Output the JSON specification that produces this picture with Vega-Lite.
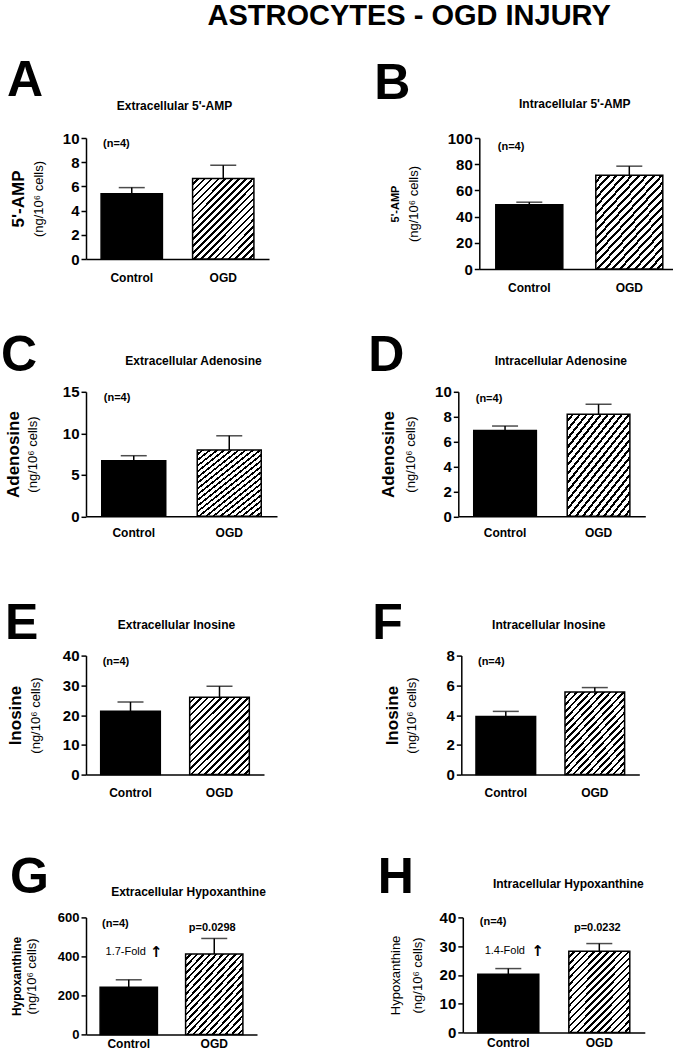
{
"$schema":"https://vega.github.io/schema/vega-lite/v6.json",
"padding":{"left":1,"top":2,"right":0,"bottom":0},
"title":{"text":"ASTROCYTES - OGD INJURY","fontSize":29,"anchor":"middle","frame":"bounds","dx":69,"offset":24.8},
"spacing":37.8,
"vconcat":[
{"hconcat":[
 {"width":183,"height":121,
  "title":{"text":"A","anchor":"start","frame":"group","fontSize":50,"dx":-79,"offset":-6.2},
  "data":{"values":[{"group":"Control","mean":5.4,"upper":5.9},{"group":"OGD","mean":6.65,"upper":7.75}]},
  "resolve":{"scale":{"x":"independent","y":"independent"}},
  "layer":[
   {"layer":[
    {"transform":[{"filter":"datum.group === 'Control'"}],"mark":{"type":"bar","fill":"#000","stroke":"#000","strokeWidth":1.5},
     "encoding":{"x":{"field":"group","type":"nominal","scale":{"domain":["Control","OGD"],"paddingInner":0.33,"paddingOuter":0.165},"axis":{"title":null,"labelPadding":13}},
      "y":{"field":"mean","type":"quantitative","scale":{"domain":[0,10],"nice":false},"axis":{"values":[0,2,4,6,8,10],"format":"d","tickCount":20,"labelOverlap":false,"title":"(ng/10⁶ cells)","titlePadding":17}}}},
    {"transform":[{"filter":"datum.group === 'OGD'"}],"mark":{"type":"bar","stroke":"#000","strokeWidth":1.5,"fill":{"gradient":"linear","x1":0,"y1":0,"x2":1,"y2":1.3,"stops":[{"offset":0,"color":"#fff"},{"offset":0.0258,"color":"#fff"},{"offset":0.0258,"color":"#000"},{"offset":0.0417,"color":"#000"},{"offset":0.0417,"color":"#fff"},{"offset":0.0675,"color":"#fff"},{"offset":0.0675,"color":"#000"},{"offset":0.0833,"color":"#000"},{"offset":0.0833,"color":"#fff"},{"offset":0.1092,"color":"#fff"},{"offset":0.1092,"color":"#000"},{"offset":0.125,"color":"#000"},{"offset":0.125,"color":"#fff"},{"offset":0.1508,"color":"#fff"},{"offset":0.1508,"color":"#000"},{"offset":0.1667,"color":"#000"},{"offset":0.1667,"color":"#fff"},{"offset":0.1925,"color":"#fff"},{"offset":0.1925,"color":"#000"},{"offset":0.2083,"color":"#000"},{"offset":0.2083,"color":"#fff"},{"offset":0.2342,"color":"#fff"},{"offset":0.2342,"color":"#000"},{"offset":0.25,"color":"#000"},{"offset":0.25,"color":"#fff"},{"offset":0.2758,"color":"#fff"},{"offset":0.2758,"color":"#000"},{"offset":0.2917,"color":"#000"},{"offset":0.2917,"color":"#fff"},{"offset":0.3175,"color":"#fff"},{"offset":0.3175,"color":"#000"},{"offset":0.3333,"color":"#000"},{"offset":0.3333,"color":"#fff"},{"offset":0.3592,"color":"#fff"},{"offset":0.3592,"color":"#000"},{"offset":0.375,"color":"#000"},{"offset":0.375,"color":"#fff"},{"offset":0.4008,"color":"#fff"},{"offset":0.4008,"color":"#000"},{"offset":0.4167,"color":"#000"},{"offset":0.4167,"color":"#fff"},{"offset":0.4425,"color":"#fff"},{"offset":0.4425,"color":"#000"},{"offset":0.4583,"color":"#000"},{"offset":0.4583,"color":"#fff"},{"offset":0.4842,"color":"#fff"},{"offset":0.4842,"color":"#000"},{"offset":0.5,"color":"#000"},{"offset":0.5,"color":"#fff"},{"offset":0.5258,"color":"#fff"},{"offset":0.5258,"color":"#000"},{"offset":0.5417,"color":"#000"},{"offset":0.5417,"color":"#fff"},{"offset":0.5675,"color":"#fff"},{"offset":0.5675,"color":"#000"},{"offset":0.5833,"color":"#000"},{"offset":0.5833,"color":"#fff"},{"offset":0.6092,"color":"#fff"},{"offset":0.6092,"color":"#000"},{"offset":0.625,"color":"#000"},{"offset":0.625,"color":"#fff"},{"offset":0.6508,"color":"#fff"},{"offset":0.6508,"color":"#000"},{"offset":0.6667,"color":"#000"},{"offset":0.6667,"color":"#fff"},{"offset":0.6925,"color":"#fff"},{"offset":0.6925,"color":"#000"},{"offset":0.7083,"color":"#000"},{"offset":0.7083,"color":"#fff"},{"offset":0.7342,"color":"#fff"},{"offset":0.7342,"color":"#000"},{"offset":0.75,"color":"#000"},{"offset":0.75,"color":"#fff"},{"offset":0.7758,"color":"#fff"},{"offset":0.7758,"color":"#000"},{"offset":0.7917,"color":"#000"},{"offset":0.7917,"color":"#fff"},{"offset":0.8175,"color":"#fff"},{"offset":0.8175,"color":"#000"},{"offset":0.8333,"color":"#000"},{"offset":0.8333,"color":"#fff"},{"offset":0.8592,"color":"#fff"},{"offset":0.8592,"color":"#000"},{"offset":0.875,"color":"#000"},{"offset":0.875,"color":"#fff"}]}},
     "encoding":{"x":{"field":"group","type":"nominal"},"y":{"field":"mean","type":"quantitative"}}},
    {"mark":{"type":"rule","color":"#000","strokeWidth":1.5},"encoding":{"x":{"field":"group","type":"nominal"},"y":{"field":"mean","type":"quantitative"},"y2":{"field":"upper"}}},
    {"mark":{"type":"tick","color":"#000","thickness":1.5,"size":26},"encoding":{"x":{"field":"group","type":"nominal"},"y":{"field":"upper","type":"quantitative"}}}
   ]},
   {"data":{"values":[{"label":"(n=4)"}]},"mark":{"type":"text","align":"left","baseline":"middle","fontSize":11,"fontWeight":"bold","dx":2},
    "encoding":{"text":{"field":"label"},
     "x":{"datum":"Control","type":"nominal","bandPosition":0,"scale":{"type":"band","domain":["Control","OGD"],"paddingInner":0.33,"paddingOuter":0.165},"axis":{"orient":"top","title":"Extracellular 5'-AMP","titleFontSize":12,"titleFontWeight":"bold","titlePadding":25.2,"titleX":88,"labels":false,"ticks":false,"domain":false,"minExtent":0,"maxExtent":0}},
     "y":{"datum":9.5,"type":"quantitative","scale":{"domain":[0,10],"nice":false},"axis":{"orient":"left","title":"5'-AMP","titleFontSize":17,"titleFontWeight":"bold","titlePadding":59,"labels":false,"ticks":false,"domain":false,"minExtent":0,"maxExtent":0}}}}
  ]},
 {"width":200,"height":131,
  "title":{"text":"B","anchor":"start","frame":"group","fontSize":50,"dx":-105,"offset":-11.2},
  "data":{"values":[{"group":"Control","mean":49,"upper":51},{"group":"OGD","mean":71.5,"upper":78.5}]},
  "resolve":{"scale":{"x":"independent","y":"independent"}},
  "layer":[
   {"layer":[
    {"transform":[{"filter":"datum.group === 'Control'"}],"mark":{"type":"bar","fill":"#000","stroke":"#000","strokeWidth":1.5},
     "encoding":{"x":{"field":"group","type":"nominal","scale":{"domain":["Control","OGD"],"paddingInner":0.33,"paddingOuter":0.165},"axis":{"title":null,"labelPadding":13}},
      "y":{"field":"mean","type":"quantitative","scale":{"domain":[0,100],"nice":false},"axis":{"values":[0,20,40,60,80,100],"format":"d","tickCount":20,"labelOverlap":false,"title":"(ng/10⁶ cells)","titlePadding":27}}}},
    {"transform":[{"filter":"datum.group === 'OGD'"}],"mark":{"type":"bar","stroke":"#000","strokeWidth":1.5,"fill":{"gradient":"linear","x1":0,"y1":0,"x2":1,"y2":1.3,"stops":[{"offset":0,"color":"#fff"},{"offset":0.0258,"color":"#fff"},{"offset":0.0258,"color":"#000"},{"offset":0.0417,"color":"#000"},{"offset":0.0417,"color":"#fff"},{"offset":0.0675,"color":"#fff"},{"offset":0.0675,"color":"#000"},{"offset":0.0833,"color":"#000"},{"offset":0.0833,"color":"#fff"},{"offset":0.1092,"color":"#fff"},{"offset":0.1092,"color":"#000"},{"offset":0.125,"color":"#000"},{"offset":0.125,"color":"#fff"},{"offset":0.1508,"color":"#fff"},{"offset":0.1508,"color":"#000"},{"offset":0.1667,"color":"#000"},{"offset":0.1667,"color":"#fff"},{"offset":0.1925,"color":"#fff"},{"offset":0.1925,"color":"#000"},{"offset":0.2083,"color":"#000"},{"offset":0.2083,"color":"#fff"},{"offset":0.2342,"color":"#fff"},{"offset":0.2342,"color":"#000"},{"offset":0.25,"color":"#000"},{"offset":0.25,"color":"#fff"},{"offset":0.2758,"color":"#fff"},{"offset":0.2758,"color":"#000"},{"offset":0.2917,"color":"#000"},{"offset":0.2917,"color":"#fff"},{"offset":0.3175,"color":"#fff"},{"offset":0.3175,"color":"#000"},{"offset":0.3333,"color":"#000"},{"offset":0.3333,"color":"#fff"},{"offset":0.3592,"color":"#fff"},{"offset":0.3592,"color":"#000"},{"offset":0.375,"color":"#000"},{"offset":0.375,"color":"#fff"},{"offset":0.4008,"color":"#fff"},{"offset":0.4008,"color":"#000"},{"offset":0.4167,"color":"#000"},{"offset":0.4167,"color":"#fff"},{"offset":0.4425,"color":"#fff"},{"offset":0.4425,"color":"#000"},{"offset":0.4583,"color":"#000"},{"offset":0.4583,"color":"#fff"},{"offset":0.4842,"color":"#fff"},{"offset":0.4842,"color":"#000"},{"offset":0.5,"color":"#000"},{"offset":0.5,"color":"#fff"},{"offset":0.5258,"color":"#fff"},{"offset":0.5258,"color":"#000"},{"offset":0.5417,"color":"#000"},{"offset":0.5417,"color":"#fff"},{"offset":0.5675,"color":"#fff"},{"offset":0.5675,"color":"#000"},{"offset":0.5833,"color":"#000"},{"offset":0.5833,"color":"#fff"},{"offset":0.6092,"color":"#fff"},{"offset":0.6092,"color":"#000"},{"offset":0.625,"color":"#000"},{"offset":0.625,"color":"#fff"},{"offset":0.6508,"color":"#fff"},{"offset":0.6508,"color":"#000"},{"offset":0.6667,"color":"#000"},{"offset":0.6667,"color":"#fff"},{"offset":0.6925,"color":"#fff"},{"offset":0.6925,"color":"#000"},{"offset":0.7083,"color":"#000"},{"offset":0.7083,"color":"#fff"},{"offset":0.7342,"color":"#fff"},{"offset":0.7342,"color":"#000"},{"offset":0.75,"color":"#000"},{"offset":0.75,"color":"#fff"},{"offset":0.7758,"color":"#fff"},{"offset":0.7758,"color":"#000"},{"offset":0.7917,"color":"#000"},{"offset":0.7917,"color":"#fff"},{"offset":0.8175,"color":"#fff"},{"offset":0.8175,"color":"#000"},{"offset":0.8333,"color":"#000"},{"offset":0.8333,"color":"#fff"},{"offset":0.8592,"color":"#fff"},{"offset":0.8592,"color":"#000"},{"offset":0.875,"color":"#000"},{"offset":0.875,"color":"#fff"}]}},
     "encoding":{"x":{"field":"group","type":"nominal"},"y":{"field":"mean","type":"quantitative"}}},
    {"mark":{"type":"rule","color":"#000","strokeWidth":1.5},"encoding":{"x":{"field":"group","type":"nominal"},"y":{"field":"mean","type":"quantitative"},"y2":{"field":"upper"}}},
    {"mark":{"type":"tick","color":"#000","thickness":1.5,"size":26},"encoding":{"x":{"field":"group","type":"nominal"},"y":{"field":"upper","type":"quantitative"}}}
   ]},
   {"data":{"values":[{"label":"(n=4)"}]},"mark":{"type":"text","align":"left","baseline":"middle","fontSize":11,"fontWeight":"bold","dx":2},
    "encoding":{"text":{"field":"label"},
     "x":{"datum":"Control","type":"nominal","bandPosition":0,"scale":{"type":"band","domain":["Control","OGD"],"paddingInner":0.33,"paddingOuter":0.165},"axis":{"orient":"top","title":"Intracellular 5'-AMP","titleFontSize":12,"titleFontWeight":"bold","titlePadding":27.2,"titleX":95,"labels":false,"ticks":false,"domain":false,"minExtent":0,"maxExtent":0}},
     "y":{"datum":93,"type":"quantitative","scale":{"domain":[0,100],"nice":false},"axis":{"orient":"left","title":"5'-AMP","titleFontSize":11,"titleFontWeight":"bold","titlePadding":79,"labels":false,"ticks":false,"domain":false,"minExtent":0,"maxExtent":0}}}}
  ]}
],"spacing":105.3},
{"spacing":59.8,"vconcat":[
{"hconcat":[
 {"width":191,"height":124.5,
  "title":{"text":"C","anchor":"start","frame":"group","fontSize":50,"dx":-85,"offset":-27.2},
  "data":{"values":[{"group":"Control","mean":6.7,"upper":7.3},{"group":"OGD","mean":8.0,"upper":9.7}]},
  "resolve":{"scale":{"x":"independent","y":"independent"}},
  "layer":[
   {"layer":[
    {"transform":[{"filter":"datum.group === 'Control'"}],"mark":{"type":"bar","fill":"#000","stroke":"#000","strokeWidth":1.5},
     "encoding":{"x":{"field":"group","type":"nominal","scale":{"domain":["Control","OGD"],"paddingInner":0.33,"paddingOuter":0.165},"axis":{"title":null,"labelPadding":11}},
      "y":{"field":"mean","type":"quantitative","scale":{"domain":[0,15],"nice":false},"axis":{"values":[0,5,10,15],"format":"d","tickCount":20,"labelOverlap":false,"title":"(ng/10⁶ cells)","titlePadding":23}}}},
    {"transform":[{"filter":"datum.group === 'OGD'"}],"mark":{"type":"bar","stroke":"#000","strokeWidth":1.5,"fill":{"gradient":"linear","x1":0,"y1":0,"x2":1,"y2":1.3,"stops":[{"offset":0,"color":"#fff"},{"offset":0.0258,"color":"#fff"},{"offset":0.0258,"color":"#000"},{"offset":0.0417,"color":"#000"},{"offset":0.0417,"color":"#fff"},{"offset":0.0675,"color":"#fff"},{"offset":0.0675,"color":"#000"},{"offset":0.0833,"color":"#000"},{"offset":0.0833,"color":"#fff"},{"offset":0.1092,"color":"#fff"},{"offset":0.1092,"color":"#000"},{"offset":0.125,"color":"#000"},{"offset":0.125,"color":"#fff"},{"offset":0.1508,"color":"#fff"},{"offset":0.1508,"color":"#000"},{"offset":0.1667,"color":"#000"},{"offset":0.1667,"color":"#fff"},{"offset":0.1925,"color":"#fff"},{"offset":0.1925,"color":"#000"},{"offset":0.2083,"color":"#000"},{"offset":0.2083,"color":"#fff"},{"offset":0.2342,"color":"#fff"},{"offset":0.2342,"color":"#000"},{"offset":0.25,"color":"#000"},{"offset":0.25,"color":"#fff"},{"offset":0.2758,"color":"#fff"},{"offset":0.2758,"color":"#000"},{"offset":0.2917,"color":"#000"},{"offset":0.2917,"color":"#fff"},{"offset":0.3175,"color":"#fff"},{"offset":0.3175,"color":"#000"},{"offset":0.3333,"color":"#000"},{"offset":0.3333,"color":"#fff"},{"offset":0.3592,"color":"#fff"},{"offset":0.3592,"color":"#000"},{"offset":0.375,"color":"#000"},{"offset":0.375,"color":"#fff"},{"offset":0.4008,"color":"#fff"},{"offset":0.4008,"color":"#000"},{"offset":0.4167,"color":"#000"},{"offset":0.4167,"color":"#fff"},{"offset":0.4425,"color":"#fff"},{"offset":0.4425,"color":"#000"},{"offset":0.4583,"color":"#000"},{"offset":0.4583,"color":"#fff"},{"offset":0.4842,"color":"#fff"},{"offset":0.4842,"color":"#000"},{"offset":0.5,"color":"#000"},{"offset":0.5,"color":"#fff"},{"offset":0.5258,"color":"#fff"},{"offset":0.5258,"color":"#000"},{"offset":0.5417,"color":"#000"},{"offset":0.5417,"color":"#fff"},{"offset":0.5675,"color":"#fff"},{"offset":0.5675,"color":"#000"},{"offset":0.5833,"color":"#000"},{"offset":0.5833,"color":"#fff"},{"offset":0.6092,"color":"#fff"},{"offset":0.6092,"color":"#000"},{"offset":0.625,"color":"#000"},{"offset":0.625,"color":"#fff"},{"offset":0.6508,"color":"#fff"},{"offset":0.6508,"color":"#000"},{"offset":0.6667,"color":"#000"},{"offset":0.6667,"color":"#fff"},{"offset":0.6925,"color":"#fff"},{"offset":0.6925,"color":"#000"},{"offset":0.7083,"color":"#000"},{"offset":0.7083,"color":"#fff"},{"offset":0.7342,"color":"#fff"},{"offset":0.7342,"color":"#000"},{"offset":0.75,"color":"#000"},{"offset":0.75,"color":"#fff"},{"offset":0.7758,"color":"#fff"},{"offset":0.7758,"color":"#000"},{"offset":0.7917,"color":"#000"},{"offset":0.7917,"color":"#fff"},{"offset":0.8175,"color":"#fff"},{"offset":0.8175,"color":"#000"},{"offset":0.8333,"color":"#000"},{"offset":0.8333,"color":"#fff"},{"offset":0.8592,"color":"#fff"},{"offset":0.8592,"color":"#000"},{"offset":0.875,"color":"#000"},{"offset":0.875,"color":"#fff"}]}},
     "encoding":{"x":{"field":"group","type":"nominal"},"y":{"field":"mean","type":"quantitative"}}},
    {"mark":{"type":"rule","color":"#000","strokeWidth":1.5},"encoding":{"x":{"field":"group","type":"nominal"},"y":{"field":"mean","type":"quantitative"},"y2":{"field":"upper"}}},
    {"mark":{"type":"tick","color":"#000","thickness":1.5,"size":26},"encoding":{"x":{"field":"group","type":"nominal"},"y":{"field":"upper","type":"quantitative"}}}
   ]},
   {"data":{"values":[{"label":"(n=4)"}]},"mark":{"type":"text","align":"left","baseline":"middle","fontSize":11,"fontWeight":"bold","dx":2},
    "encoding":{"text":{"field":"label"},
     "x":{"datum":"Control","type":"nominal","bandPosition":0,"scale":{"type":"band","domain":["Control","OGD"],"paddingInner":0.33,"paddingOuter":0.165},"axis":{"orient":"top","title":"Extracellular Adenosine","titleFontSize":12,"titleFontWeight":"bold","titlePadding":24.7,"titleX":107,"labels":false,"ticks":false,"domain":false,"minExtent":0,"maxExtent":0}},
     "y":{"datum":14.2,"type":"quantitative","scale":{"domain":[0,15],"nice":false},"axis":{"orient":"left","title":"Adenosine","titleFontSize":17,"titleFontWeight":"bold","titlePadding":64,"labels":false,"ticks":false,"domain":false,"minExtent":0,"maxExtent":0}}}}
  ]},
 {"width":187,"height":124.5,
  "title":{"text":"D","anchor":"start","frame":"group","fontSize":50,"dx":-90,"offset":-27.2},
  "data":{"values":[{"group":"Control","mean":6.9,"upper":7.25},{"group":"OGD","mean":8.2,"upper":9.0}]},
  "resolve":{"scale":{"x":"independent","y":"independent"}},
  "layer":[
   {"layer":[
    {"transform":[{"filter":"datum.group === 'Control'"}],"mark":{"type":"bar","fill":"#000","stroke":"#000","strokeWidth":1.5},
     "encoding":{"x":{"field":"group","type":"nominal","scale":{"domain":["Control","OGD"],"paddingInner":0.33,"paddingOuter":0.165},"axis":{"title":null,"labelPadding":11}},
      "y":{"field":"mean","type":"quantitative","scale":{"domain":[0,10],"nice":false},"axis":{"values":[0,2,4,6,8,10],"format":"d","tickCount":20,"labelOverlap":false,"title":"(ng/10⁶ cells)","titlePadding":17}}}},
    {"transform":[{"filter":"datum.group === 'OGD'"}],"mark":{"type":"bar","stroke":"#000","strokeWidth":1.5,"fill":{"gradient":"linear","x1":0,"y1":0,"x2":1,"y2":1.3,"stops":[{"offset":0,"color":"#fff"},{"offset":0.0258,"color":"#fff"},{"offset":0.0258,"color":"#000"},{"offset":0.0417,"color":"#000"},{"offset":0.0417,"color":"#fff"},{"offset":0.0675,"color":"#fff"},{"offset":0.0675,"color":"#000"},{"offset":0.0833,"color":"#000"},{"offset":0.0833,"color":"#fff"},{"offset":0.1092,"color":"#fff"},{"offset":0.1092,"color":"#000"},{"offset":0.125,"color":"#000"},{"offset":0.125,"color":"#fff"},{"offset":0.1508,"color":"#fff"},{"offset":0.1508,"color":"#000"},{"offset":0.1667,"color":"#000"},{"offset":0.1667,"color":"#fff"},{"offset":0.1925,"color":"#fff"},{"offset":0.1925,"color":"#000"},{"offset":0.2083,"color":"#000"},{"offset":0.2083,"color":"#fff"},{"offset":0.2342,"color":"#fff"},{"offset":0.2342,"color":"#000"},{"offset":0.25,"color":"#000"},{"offset":0.25,"color":"#fff"},{"offset":0.2758,"color":"#fff"},{"offset":0.2758,"color":"#000"},{"offset":0.2917,"color":"#000"},{"offset":0.2917,"color":"#fff"},{"offset":0.3175,"color":"#fff"},{"offset":0.3175,"color":"#000"},{"offset":0.3333,"color":"#000"},{"offset":0.3333,"color":"#fff"},{"offset":0.3592,"color":"#fff"},{"offset":0.3592,"color":"#000"},{"offset":0.375,"color":"#000"},{"offset":0.375,"color":"#fff"},{"offset":0.4008,"color":"#fff"},{"offset":0.4008,"color":"#000"},{"offset":0.4167,"color":"#000"},{"offset":0.4167,"color":"#fff"},{"offset":0.4425,"color":"#fff"},{"offset":0.4425,"color":"#000"},{"offset":0.4583,"color":"#000"},{"offset":0.4583,"color":"#fff"},{"offset":0.4842,"color":"#fff"},{"offset":0.4842,"color":"#000"},{"offset":0.5,"color":"#000"},{"offset":0.5,"color":"#fff"},{"offset":0.5258,"color":"#fff"},{"offset":0.5258,"color":"#000"},{"offset":0.5417,"color":"#000"},{"offset":0.5417,"color":"#fff"},{"offset":0.5675,"color":"#fff"},{"offset":0.5675,"color":"#000"},{"offset":0.5833,"color":"#000"},{"offset":0.5833,"color":"#fff"},{"offset":0.6092,"color":"#fff"},{"offset":0.6092,"color":"#000"},{"offset":0.625,"color":"#000"},{"offset":0.625,"color":"#fff"},{"offset":0.6508,"color":"#fff"},{"offset":0.6508,"color":"#000"},{"offset":0.6667,"color":"#000"},{"offset":0.6667,"color":"#fff"},{"offset":0.6925,"color":"#fff"},{"offset":0.6925,"color":"#000"},{"offset":0.7083,"color":"#000"},{"offset":0.7083,"color":"#fff"},{"offset":0.7342,"color":"#fff"},{"offset":0.7342,"color":"#000"},{"offset":0.75,"color":"#000"},{"offset":0.75,"color":"#fff"},{"offset":0.7758,"color":"#fff"},{"offset":0.7758,"color":"#000"},{"offset":0.7917,"color":"#000"},{"offset":0.7917,"color":"#fff"},{"offset":0.8175,"color":"#fff"},{"offset":0.8175,"color":"#000"},{"offset":0.8333,"color":"#000"},{"offset":0.8333,"color":"#fff"},{"offset":0.8592,"color":"#fff"},{"offset":0.8592,"color":"#000"},{"offset":0.875,"color":"#000"},{"offset":0.875,"color":"#fff"}]}},
     "encoding":{"x":{"field":"group","type":"nominal"},"y":{"field":"mean","type":"quantitative"}}},
    {"mark":{"type":"rule","color":"#000","strokeWidth":1.5},"encoding":{"x":{"field":"group","type":"nominal"},"y":{"field":"mean","type":"quantitative"},"y2":{"field":"upper"}}},
    {"mark":{"type":"tick","color":"#000","thickness":1.5,"size":26},"encoding":{"x":{"field":"group","type":"nominal"},"y":{"field":"upper","type":"quantitative"}}}
   ]},
   {"data":{"values":[{"label":"(n=4)"}]},"mark":{"type":"text","align":"left","baseline":"middle","fontSize":11,"fontWeight":"bold","dx":2},
    "encoding":{"text":{"field":"label"},
     "x":{"datum":"Control","type":"nominal","bandPosition":0,"scale":{"type":"band","domain":["Control","OGD"],"paddingInner":0.33,"paddingOuter":0.165},"axis":{"orient":"top","title":"Intracellular Adenosine","titleFontSize":12,"titleFontWeight":"bold","titlePadding":24.7,"titleX":102,"labels":false,"ticks":false,"domain":false,"minExtent":0,"maxExtent":0}},
     "y":{"datum":9.4,"type":"quantitative","scale":{"domain":[0,10],"nice":false},"axis":{"orient":"left","title":"Adenosine","titleFontSize":17,"titleFontWeight":"bold","titlePadding":61,"labels":false,"ticks":false,"domain":false,"minExtent":0,"maxExtent":0}}}}
  ]}
],"spacing":91.3},
{"spacing":54.8,"vconcat":[
{"hconcat":[
 {"width":178,"height":119,
  "title":{"text":"E","anchor":"start","frame":"group","fontSize":50,"dx":-81,"offset":-30.2},
  "data":{"values":[{"group":"Control","mean":21.3,"upper":24.4},{"group":"OGD","mean":26.0,"upper":29.7}]},
  "resolve":{"scale":{"x":"independent","y":"independent"}},
  "layer":[
   {"layer":[
    {"transform":[{"filter":"datum.group === 'Control'"}],"mark":{"type":"bar","fill":"#000","stroke":"#000","strokeWidth":1.5},
     "encoding":{"x":{"field":"group","type":"nominal","scale":{"domain":["Control","OGD"],"paddingInner":0.33,"paddingOuter":0.165},"axis":{"title":null,"labelPadding":13}},
      "y":{"field":"mean","type":"quantitative","scale":{"domain":[0,40],"nice":false},"axis":{"values":[0,10,20,30,40],"format":"d","tickCount":20,"labelOverlap":false,"title":"(ng/10⁶ cells)","titlePadding":20}}}},
    {"transform":[{"filter":"datum.group === 'OGD'"}],"mark":{"type":"bar","stroke":"#000","strokeWidth":1.5,"fill":{"gradient":"linear","x1":0,"y1":0,"x2":1,"y2":1.3,"stops":[{"offset":0,"color":"#fff"},{"offset":0.0258,"color":"#fff"},{"offset":0.0258,"color":"#000"},{"offset":0.0417,"color":"#000"},{"offset":0.0417,"color":"#fff"},{"offset":0.0675,"color":"#fff"},{"offset":0.0675,"color":"#000"},{"offset":0.0833,"color":"#000"},{"offset":0.0833,"color":"#fff"},{"offset":0.1092,"color":"#fff"},{"offset":0.1092,"color":"#000"},{"offset":0.125,"color":"#000"},{"offset":0.125,"color":"#fff"},{"offset":0.1508,"color":"#fff"},{"offset":0.1508,"color":"#000"},{"offset":0.1667,"color":"#000"},{"offset":0.1667,"color":"#fff"},{"offset":0.1925,"color":"#fff"},{"offset":0.1925,"color":"#000"},{"offset":0.2083,"color":"#000"},{"offset":0.2083,"color":"#fff"},{"offset":0.2342,"color":"#fff"},{"offset":0.2342,"color":"#000"},{"offset":0.25,"color":"#000"},{"offset":0.25,"color":"#fff"},{"offset":0.2758,"color":"#fff"},{"offset":0.2758,"color":"#000"},{"offset":0.2917,"color":"#000"},{"offset":0.2917,"color":"#fff"},{"offset":0.3175,"color":"#fff"},{"offset":0.3175,"color":"#000"},{"offset":0.3333,"color":"#000"},{"offset":0.3333,"color":"#fff"},{"offset":0.3592,"color":"#fff"},{"offset":0.3592,"color":"#000"},{"offset":0.375,"color":"#000"},{"offset":0.375,"color":"#fff"},{"offset":0.4008,"color":"#fff"},{"offset":0.4008,"color":"#000"},{"offset":0.4167,"color":"#000"},{"offset":0.4167,"color":"#fff"},{"offset":0.4425,"color":"#fff"},{"offset":0.4425,"color":"#000"},{"offset":0.4583,"color":"#000"},{"offset":0.4583,"color":"#fff"},{"offset":0.4842,"color":"#fff"},{"offset":0.4842,"color":"#000"},{"offset":0.5,"color":"#000"},{"offset":0.5,"color":"#fff"},{"offset":0.5258,"color":"#fff"},{"offset":0.5258,"color":"#000"},{"offset":0.5417,"color":"#000"},{"offset":0.5417,"color":"#fff"},{"offset":0.5675,"color":"#fff"},{"offset":0.5675,"color":"#000"},{"offset":0.5833,"color":"#000"},{"offset":0.5833,"color":"#fff"},{"offset":0.6092,"color":"#fff"},{"offset":0.6092,"color":"#000"},{"offset":0.625,"color":"#000"},{"offset":0.625,"color":"#fff"},{"offset":0.6508,"color":"#fff"},{"offset":0.6508,"color":"#000"},{"offset":0.6667,"color":"#000"},{"offset":0.6667,"color":"#fff"},{"offset":0.6925,"color":"#fff"},{"offset":0.6925,"color":"#000"},{"offset":0.7083,"color":"#000"},{"offset":0.7083,"color":"#fff"},{"offset":0.7342,"color":"#fff"},{"offset":0.7342,"color":"#000"},{"offset":0.75,"color":"#000"},{"offset":0.75,"color":"#fff"},{"offset":0.7758,"color":"#fff"},{"offset":0.7758,"color":"#000"},{"offset":0.7917,"color":"#000"},{"offset":0.7917,"color":"#fff"},{"offset":0.8175,"color":"#fff"},{"offset":0.8175,"color":"#000"},{"offset":0.8333,"color":"#000"},{"offset":0.8333,"color":"#fff"},{"offset":0.8592,"color":"#fff"},{"offset":0.8592,"color":"#000"},{"offset":0.875,"color":"#000"},{"offset":0.875,"color":"#fff"}]}},
     "encoding":{"x":{"field":"group","type":"nominal"},"y":{"field":"mean","type":"quantitative"}}},
    {"mark":{"type":"rule","color":"#000","strokeWidth":1.5},"encoding":{"x":{"field":"group","type":"nominal"},"y":{"field":"mean","type":"quantitative"},"y2":{"field":"upper"}}},
    {"mark":{"type":"tick","color":"#000","thickness":1.5,"size":26},"encoding":{"x":{"field":"group","type":"nominal"},"y":{"field":"upper","type":"quantitative"}}}
   ]},
   {"data":{"values":[{"label":"(n=4)"}]},"mark":{"type":"text","align":"left","baseline":"middle","fontSize":11,"fontWeight":"bold","dx":2},
    "encoding":{"text":{"field":"label"},
     "x":{"datum":"Control","type":"nominal","bandPosition":0,"scale":{"type":"band","domain":["Control","OGD"],"paddingInner":0.33,"paddingOuter":0.165},"axis":{"orient":"top","title":"Extracellular Inosine","titleFontSize":12,"titleFontWeight":"bold","titlePadding":24.2,"titleX":90,"labels":false,"ticks":false,"domain":false,"minExtent":0,"maxExtent":0}},
     "y":{"datum":37.7,"type":"quantitative","scale":{"domain":[0,40],"nice":false},"axis":{"orient":"left","title":"Inosine","titleFontSize":17,"titleFontWeight":"bold","titlePadding":62,"labels":false,"ticks":false,"domain":false,"minExtent":0,"maxExtent":0}}}}
  ]},
 {"width":178,"height":119,
  "title":{"text":"F","anchor":"start","frame":"group","fontSize":50,"dx":-89,"offset":-30.2},
  "data":{"values":[{"group":"Control","mean":3.9,"upper":4.25},{"group":"OGD","mean":5.55,"upper":5.85}]},
  "resolve":{"scale":{"x":"independent","y":"independent"}},
  "layer":[
   {"layer":[
    {"transform":[{"filter":"datum.group === 'Control'"}],"mark":{"type":"bar","fill":"#000","stroke":"#000","strokeWidth":1.5},
     "encoding":{"x":{"field":"group","type":"nominal","scale":{"domain":["Control","OGD"],"paddingInner":0.33,"paddingOuter":0.165},"axis":{"title":null,"labelPadding":13}},
      "y":{"field":"mean","type":"quantitative","scale":{"domain":[0,8],"nice":false},"axis":{"values":[0,2,4,6,8],"format":"d","tickCount":20,"labelOverlap":false,"title":"(ng/10⁶ cells)","titlePadding":27.6}}}},
    {"transform":[{"filter":"datum.group === 'OGD'"}],"mark":{"type":"bar","stroke":"#000","strokeWidth":1.5,"fill":{"gradient":"linear","x1":0,"y1":0,"x2":1,"y2":1.3,"stops":[{"offset":0,"color":"#fff"},{"offset":0.0258,"color":"#fff"},{"offset":0.0258,"color":"#000"},{"offset":0.0417,"color":"#000"},{"offset":0.0417,"color":"#fff"},{"offset":0.0675,"color":"#fff"},{"offset":0.0675,"color":"#000"},{"offset":0.0833,"color":"#000"},{"offset":0.0833,"color":"#fff"},{"offset":0.1092,"color":"#fff"},{"offset":0.1092,"color":"#000"},{"offset":0.125,"color":"#000"},{"offset":0.125,"color":"#fff"},{"offset":0.1508,"color":"#fff"},{"offset":0.1508,"color":"#000"},{"offset":0.1667,"color":"#000"},{"offset":0.1667,"color":"#fff"},{"offset":0.1925,"color":"#fff"},{"offset":0.1925,"color":"#000"},{"offset":0.2083,"color":"#000"},{"offset":0.2083,"color":"#fff"},{"offset":0.2342,"color":"#fff"},{"offset":0.2342,"color":"#000"},{"offset":0.25,"color":"#000"},{"offset":0.25,"color":"#fff"},{"offset":0.2758,"color":"#fff"},{"offset":0.2758,"color":"#000"},{"offset":0.2917,"color":"#000"},{"offset":0.2917,"color":"#fff"},{"offset":0.3175,"color":"#fff"},{"offset":0.3175,"color":"#000"},{"offset":0.3333,"color":"#000"},{"offset":0.3333,"color":"#fff"},{"offset":0.3592,"color":"#fff"},{"offset":0.3592,"color":"#000"},{"offset":0.375,"color":"#000"},{"offset":0.375,"color":"#fff"},{"offset":0.4008,"color":"#fff"},{"offset":0.4008,"color":"#000"},{"offset":0.4167,"color":"#000"},{"offset":0.4167,"color":"#fff"},{"offset":0.4425,"color":"#fff"},{"offset":0.4425,"color":"#000"},{"offset":0.4583,"color":"#000"},{"offset":0.4583,"color":"#fff"},{"offset":0.4842,"color":"#fff"},{"offset":0.4842,"color":"#000"},{"offset":0.5,"color":"#000"},{"offset":0.5,"color":"#fff"},{"offset":0.5258,"color":"#fff"},{"offset":0.5258,"color":"#000"},{"offset":0.5417,"color":"#000"},{"offset":0.5417,"color":"#fff"},{"offset":0.5675,"color":"#fff"},{"offset":0.5675,"color":"#000"},{"offset":0.5833,"color":"#000"},{"offset":0.5833,"color":"#fff"},{"offset":0.6092,"color":"#fff"},{"offset":0.6092,"color":"#000"},{"offset":0.625,"color":"#000"},{"offset":0.625,"color":"#fff"},{"offset":0.6508,"color":"#fff"},{"offset":0.6508,"color":"#000"},{"offset":0.6667,"color":"#000"},{"offset":0.6667,"color":"#fff"},{"offset":0.6925,"color":"#fff"},{"offset":0.6925,"color":"#000"},{"offset":0.7083,"color":"#000"},{"offset":0.7083,"color":"#fff"},{"offset":0.7342,"color":"#fff"},{"offset":0.7342,"color":"#000"},{"offset":0.75,"color":"#000"},{"offset":0.75,"color":"#fff"},{"offset":0.7758,"color":"#fff"},{"offset":0.7758,"color":"#000"},{"offset":0.7917,"color":"#000"},{"offset":0.7917,"color":"#fff"},{"offset":0.8175,"color":"#fff"},{"offset":0.8175,"color":"#000"},{"offset":0.8333,"color":"#000"},{"offset":0.8333,"color":"#fff"},{"offset":0.8592,"color":"#fff"},{"offset":0.8592,"color":"#000"},{"offset":0.875,"color":"#000"},{"offset":0.875,"color":"#fff"}]}},
     "encoding":{"x":{"field":"group","type":"nominal"},"y":{"field":"mean","type":"quantitative"}}},
    {"mark":{"type":"rule","color":"#000","strokeWidth":1.5},"encoding":{"x":{"field":"group","type":"nominal"},"y":{"field":"mean","type":"quantitative"},"y2":{"field":"upper"}}},
    {"mark":{"type":"tick","color":"#000","thickness":1.5,"size":26},"encoding":{"x":{"field":"group","type":"nominal"},"y":{"field":"upper","type":"quantitative"}}}
   ]},
   {"data":{"values":[{"label":"(n=4)"}]},"mark":{"type":"text","align":"left","baseline":"middle","fontSize":11,"fontWeight":"bold","dx":2},
    "encoding":{"text":{"field":"label"},
     "x":{"datum":"Control","type":"nominal","bandPosition":0,"scale":{"type":"band","domain":["Control","OGD"],"paddingInner":0.33,"paddingOuter":0.165},"axis":{"orient":"top","title":"Intracellular Inosine","titleFontSize":12,"titleFontWeight":"bold","titlePadding":24.2,"titleX":87,"labels":false,"ticks":false,"domain":false,"minExtent":0,"maxExtent":0}},
     "y":{"datum":7.6,"type":"quantitative","scale":{"domain":[0,8],"nice":false},"axis":{"orient":"left","title":"Inosine","titleFontSize":17,"titleFontWeight":"bold","titlePadding":60,"labels":false,"ticks":false,"domain":false,"minExtent":0,"maxExtent":0}}}}
  ]}
],"spacing":108.3},
{"hconcat":[
 {"width":171,"height":117,
  "title":{"text":"G","anchor":"start","frame":"group","fontSize":50,"dx":-76,"offset":-18.2},
  "data":{"values":[{"group":"Control","mean":242,"upper":280},{"group":"OGD","mean":412,"upper":492}]},
  "resolve":{"scale":{"x":"independent","y":"independent"}},
  "layer":[
   {"layer":[
    {"transform":[{"filter":"datum.group === 'Control'"}],"mark":{"type":"bar","fill":"#000","stroke":"#000","strokeWidth":1.5},
     "encoding":{"x":{"field":"group","type":"nominal","scale":{"domain":["Control","OGD"],"paddingInner":0.33,"paddingOuter":0.165},"axis":{"title":null,"labelPadding":4}},
      "y":{"field":"mean","type":"quantitative","scale":{"domain":[0,600],"nice":false},"axis":{"values":[0,200,400,600],"format":"d","tickCount":20,"labelOverlap":false,"labelFontSize":13,"title":"(ng/10⁶ cells)","titlePadding":19}}}},
    {"transform":[{"filter":"datum.group === 'OGD'"}],"mark":{"type":"bar","stroke":"#000","strokeWidth":1.5,"fill":{"gradient":"linear","x1":0,"y1":0,"x2":1,"y2":1.3,"stops":[{"offset":0,"color":"#fff"},{"offset":0.0258,"color":"#fff"},{"offset":0.0258,"color":"#000"},{"offset":0.0417,"color":"#000"},{"offset":0.0417,"color":"#fff"},{"offset":0.0675,"color":"#fff"},{"offset":0.0675,"color":"#000"},{"offset":0.0833,"color":"#000"},{"offset":0.0833,"color":"#fff"},{"offset":0.1092,"color":"#fff"},{"offset":0.1092,"color":"#000"},{"offset":0.125,"color":"#000"},{"offset":0.125,"color":"#fff"},{"offset":0.1508,"color":"#fff"},{"offset":0.1508,"color":"#000"},{"offset":0.1667,"color":"#000"},{"offset":0.1667,"color":"#fff"},{"offset":0.1925,"color":"#fff"},{"offset":0.1925,"color":"#000"},{"offset":0.2083,"color":"#000"},{"offset":0.2083,"color":"#fff"},{"offset":0.2342,"color":"#fff"},{"offset":0.2342,"color":"#000"},{"offset":0.25,"color":"#000"},{"offset":0.25,"color":"#fff"},{"offset":0.2758,"color":"#fff"},{"offset":0.2758,"color":"#000"},{"offset":0.2917,"color":"#000"},{"offset":0.2917,"color":"#fff"},{"offset":0.3175,"color":"#fff"},{"offset":0.3175,"color":"#000"},{"offset":0.3333,"color":"#000"},{"offset":0.3333,"color":"#fff"},{"offset":0.3592,"color":"#fff"},{"offset":0.3592,"color":"#000"},{"offset":0.375,"color":"#000"},{"offset":0.375,"color":"#fff"},{"offset":0.4008,"color":"#fff"},{"offset":0.4008,"color":"#000"},{"offset":0.4167,"color":"#000"},{"offset":0.4167,"color":"#fff"},{"offset":0.4425,"color":"#fff"},{"offset":0.4425,"color":"#000"},{"offset":0.4583,"color":"#000"},{"offset":0.4583,"color":"#fff"},{"offset":0.4842,"color":"#fff"},{"offset":0.4842,"color":"#000"},{"offset":0.5,"color":"#000"},{"offset":0.5,"color":"#fff"},{"offset":0.5258,"color":"#fff"},{"offset":0.5258,"color":"#000"},{"offset":0.5417,"color":"#000"},{"offset":0.5417,"color":"#fff"},{"offset":0.5675,"color":"#fff"},{"offset":0.5675,"color":"#000"},{"offset":0.5833,"color":"#000"},{"offset":0.5833,"color":"#fff"},{"offset":0.6092,"color":"#fff"},{"offset":0.6092,"color":"#000"},{"offset":0.625,"color":"#000"},{"offset":0.625,"color":"#fff"},{"offset":0.6508,"color":"#fff"},{"offset":0.6508,"color":"#000"},{"offset":0.6667,"color":"#000"},{"offset":0.6667,"color":"#fff"},{"offset":0.6925,"color":"#fff"},{"offset":0.6925,"color":"#000"},{"offset":0.7083,"color":"#000"},{"offset":0.7083,"color":"#fff"},{"offset":0.7342,"color":"#fff"},{"offset":0.7342,"color":"#000"},{"offset":0.75,"color":"#000"},{"offset":0.75,"color":"#fff"},{"offset":0.7758,"color":"#fff"},{"offset":0.7758,"color":"#000"},{"offset":0.7917,"color":"#000"},{"offset":0.7917,"color":"#fff"},{"offset":0.8175,"color":"#fff"},{"offset":0.8175,"color":"#000"},{"offset":0.8333,"color":"#000"},{"offset":0.8333,"color":"#fff"},{"offset":0.8592,"color":"#fff"},{"offset":0.8592,"color":"#000"},{"offset":0.875,"color":"#000"},{"offset":0.875,"color":"#fff"}]}},
     "encoding":{"x":{"field":"group","type":"nominal"},"y":{"field":"mean","type":"quantitative"}}},
    {"mark":{"type":"rule","color":"#000","strokeWidth":1.5},"encoding":{"x":{"field":"group","type":"nominal"},"y":{"field":"mean","type":"quantitative"},"y2":{"field":"upper"}}},
    {"mark":{"type":"tick","color":"#000","thickness":1.5,"size":26},"encoding":{"x":{"field":"group","type":"nominal"},"y":{"field":"upper","type":"quantitative"}}},
    {"data":{"values":[{"label":"p=0.0298"}]},"mark":{"type":"text","align":"center","baseline":"middle","fontSize":11,"fontWeight":"bold","dx":-2},
     "encoding":{"text":{"field":"label"},"x":{"datum":"OGD","type":"nominal"},"y":{"datum":547,"type":"quantitative"}}},
    {"data":{"values":[{"label":"1.7-Fold"}]},"mark":{"type":"text","align":"center","baseline":"middle","fontSize":11,"fontWeight":"normal","dx":-3},
     "encoding":{"text":{"field":"label"},"x":{"datum":"Control","type":"nominal"},"y":{"datum":425,"type":"quantitative"}}},
    {"data":{"values":[{"label":"↑"}]},"mark":{"type":"text","align":"center","baseline":"middle","fontSize":15,"fontWeight":"bold","font":"DejaVu Sans","dx":27.5},
     "encoding":{"text":{"field":"label"},"x":{"datum":"Control","type":"nominal"},"y":{"datum":425,"type":"quantitative"}}}
   ]},
   {"data":{"values":[{"label":"(n=4)"}]},"mark":{"type":"text","align":"left","baseline":"middle","fontSize":11,"fontWeight":"bold","dx":2},
    "encoding":{"text":{"field":"label"},
     "x":{"datum":"Control","type":"nominal","bandPosition":0,"scale":{"type":"band","domain":["Control","OGD"],"paddingInner":0.33,"paddingOuter":0.165},"axis":{"orient":"top","title":"Extracellular Hypoxanthine","titleFontSize":12,"titleFontWeight":"bold","titlePadding":19.2,"titleX":102,"labels":false,"ticks":false,"domain":false,"minExtent":0,"maxExtent":0}},
     "y":{"datum":568,"type":"quantitative","scale":{"domain":[0,600],"nice":false},"axis":{"orient":"left","title":"Hypoxanthine","titleFontSize":12,"titleFontWeight":"bold","titlePadding":63,"labels":false,"ticks":false,"domain":false,"minExtent":0,"maxExtent":0}}}}
  ]},
 {"width":182,"height":115,
  "title":{"text":"H","anchor":"start","frame":"group","fontSize":50,"dx":-85,"offset":-26.2},
  "data":{"values":[{"group":"Control","mean":20.2,"upper":22.2},{"group":"OGD","mean":28.2,"upper":30.9}]},
  "resolve":{"scale":{"x":"independent","y":"independent"}},
  "layer":[
   {"layer":[
    {"transform":[{"filter":"datum.group === 'Control'"}],"mark":{"type":"bar","fill":"#000","stroke":"#000","strokeWidth":1.5},
     "encoding":{"x":{"field":"group","type":"nominal","scale":{"domain":["Control","OGD"],"paddingInner":0.33,"paddingOuter":0.165},"axis":{"title":null,"labelPadding":5}},
      "y":{"field":"mean","type":"quantitative","scale":{"domain":[0,40],"nice":false},"axis":{"values":[0,10,20,30,40],"format":"d","tickCount":20,"labelOverlap":false,"title":"(ng/10⁶ cells)","titlePadding":15}}}},
    {"transform":[{"filter":"datum.group === 'OGD'"}],"mark":{"type":"bar","stroke":"#000","strokeWidth":1.5,"fill":{"gradient":"linear","x1":0,"y1":0,"x2":1,"y2":1.3,"stops":[{"offset":0,"color":"#fff"},{"offset":0.0258,"color":"#fff"},{"offset":0.0258,"color":"#000"},{"offset":0.0417,"color":"#000"},{"offset":0.0417,"color":"#fff"},{"offset":0.0675,"color":"#fff"},{"offset":0.0675,"color":"#000"},{"offset":0.0833,"color":"#000"},{"offset":0.0833,"color":"#fff"},{"offset":0.1092,"color":"#fff"},{"offset":0.1092,"color":"#000"},{"offset":0.125,"color":"#000"},{"offset":0.125,"color":"#fff"},{"offset":0.1508,"color":"#fff"},{"offset":0.1508,"color":"#000"},{"offset":0.1667,"color":"#000"},{"offset":0.1667,"color":"#fff"},{"offset":0.1925,"color":"#fff"},{"offset":0.1925,"color":"#000"},{"offset":0.2083,"color":"#000"},{"offset":0.2083,"color":"#fff"},{"offset":0.2342,"color":"#fff"},{"offset":0.2342,"color":"#000"},{"offset":0.25,"color":"#000"},{"offset":0.25,"color":"#fff"},{"offset":0.2758,"color":"#fff"},{"offset":0.2758,"color":"#000"},{"offset":0.2917,"color":"#000"},{"offset":0.2917,"color":"#fff"},{"offset":0.3175,"color":"#fff"},{"offset":0.3175,"color":"#000"},{"offset":0.3333,"color":"#000"},{"offset":0.3333,"color":"#fff"},{"offset":0.3592,"color":"#fff"},{"offset":0.3592,"color":"#000"},{"offset":0.375,"color":"#000"},{"offset":0.375,"color":"#fff"},{"offset":0.4008,"color":"#fff"},{"offset":0.4008,"color":"#000"},{"offset":0.4167,"color":"#000"},{"offset":0.4167,"color":"#fff"},{"offset":0.4425,"color":"#fff"},{"offset":0.4425,"color":"#000"},{"offset":0.4583,"color":"#000"},{"offset":0.4583,"color":"#fff"},{"offset":0.4842,"color":"#fff"},{"offset":0.4842,"color":"#000"},{"offset":0.5,"color":"#000"},{"offset":0.5,"color":"#fff"},{"offset":0.5258,"color":"#fff"},{"offset":0.5258,"color":"#000"},{"offset":0.5417,"color":"#000"},{"offset":0.5417,"color":"#fff"},{"offset":0.5675,"color":"#fff"},{"offset":0.5675,"color":"#000"},{"offset":0.5833,"color":"#000"},{"offset":0.5833,"color":"#fff"},{"offset":0.6092,"color":"#fff"},{"offset":0.6092,"color":"#000"},{"offset":0.625,"color":"#000"},{"offset":0.625,"color":"#fff"},{"offset":0.6508,"color":"#fff"},{"offset":0.6508,"color":"#000"},{"offset":0.6667,"color":"#000"},{"offset":0.6667,"color":"#fff"},{"offset":0.6925,"color":"#fff"},{"offset":0.6925,"color":"#000"},{"offset":0.7083,"color":"#000"},{"offset":0.7083,"color":"#fff"},{"offset":0.7342,"color":"#fff"},{"offset":0.7342,"color":"#000"},{"offset":0.75,"color":"#000"},{"offset":0.75,"color":"#fff"},{"offset":0.7758,"color":"#fff"},{"offset":0.7758,"color":"#000"},{"offset":0.7917,"color":"#000"},{"offset":0.7917,"color":"#fff"},{"offset":0.8175,"color":"#fff"},{"offset":0.8175,"color":"#000"},{"offset":0.8333,"color":"#000"},{"offset":0.8333,"color":"#fff"},{"offset":0.8592,"color":"#fff"},{"offset":0.8592,"color":"#000"},{"offset":0.875,"color":"#000"},{"offset":0.875,"color":"#fff"}]}},
     "encoding":{"x":{"field":"group","type":"nominal"},"y":{"field":"mean","type":"quantitative"}}},
    {"mark":{"type":"rule","color":"#000","strokeWidth":1.5},"encoding":{"x":{"field":"group","type":"nominal"},"y":{"field":"mean","type":"quantitative"},"y2":{"field":"upper"}}},
    {"mark":{"type":"tick","color":"#000","thickness":1.5,"size":26},"encoding":{"x":{"field":"group","type":"nominal"},"y":{"field":"upper","type":"quantitative"}}},
    {"data":{"values":[{"label":"p=0.0232"}]},"mark":{"type":"text","align":"center","baseline":"middle","fontSize":11,"fontWeight":"bold","dx":-2},
     "encoding":{"text":{"field":"label"},"x":{"datum":"OGD","type":"nominal"},"y":{"datum":36.3,"type":"quantitative"}}},
    {"data":{"values":[{"label":"1.4-Fold"}]},"mark":{"type":"text","align":"center","baseline":"middle","fontSize":11,"fontWeight":"normal","dx":-3.5},
     "encoding":{"text":{"field":"label"},"x":{"datum":"Control","type":"nominal"},"y":{"datum":28.2,"type":"quantitative"}}},
    {"data":{"values":[{"label":"↑"}]},"mark":{"type":"text","align":"center","baseline":"middle","fontSize":15,"fontWeight":"bold","font":"DejaVu Sans","dx":29.5},
     "encoding":{"text":{"field":"label"},"x":{"datum":"Control","type":"nominal"},"y":{"datum":28.2,"type":"quantitative"}}}
   ]},
   {"data":{"values":[{"label":"(n=4)"}]},"mark":{"type":"text","align":"left","baseline":"middle","fontSize":11,"fontWeight":"bold","dx":2},
    "encoding":{"text":{"field":"label"},
     "x":{"datum":"Control","type":"nominal","bandPosition":0,"scale":{"type":"band","domain":["Control","OGD"],"paddingInner":0.33,"paddingOuter":0.165},"axis":{"orient":"top","title":"Intracellular Hypoxanthine","titleFontSize":12,"titleFontWeight":"bold","titlePadding":27.2,"titleX":105,"labels":false,"ticks":false,"domain":false,"minExtent":0,"maxExtent":0}},
     "y":{"datum":38.3,"type":"quantitative","scale":{"domain":[0,40],"nice":false},"axis":{"orient":"left","title":"Hypoxanthine","titleFontSize":13,"titleFontWeight":"normal","titlePadding":60,"labels":false,"ticks":false,"domain":false,"minExtent":0,"maxExtent":0}}}}
  ]}
],"spacing":111.8}
]}
]}
],
"config":{
 "font":"Liberation Sans",
 "view":{"stroke":null},
 "axis":{"domainColor":"#000","domainWidth":1.5,"tickColor":"#000","tickWidth":1.5,"labelColor":"#000","titleColor":"#000","grid":false,"labelFont":"Liberation Sans","titleFont":"Liberation Sans","labelOverlap":false,"labelBound":false},
 "axisY":{"tickSize":5,"labelFontSize":15,"labelFontWeight":"bold","labelPadding":2,"titleFontWeight":"normal","titleFontSize":13},
 "axisX":{"tickSize":0,"ticks":false,"labelFontSize":12,"labelFontWeight":"bold","labelAngle":0},
 "title":{"font":"Liberation Sans","color":"#000","fontWeight":"bold"},
 "text":{"font":"Liberation Sans","color":"#000"}
}
}
